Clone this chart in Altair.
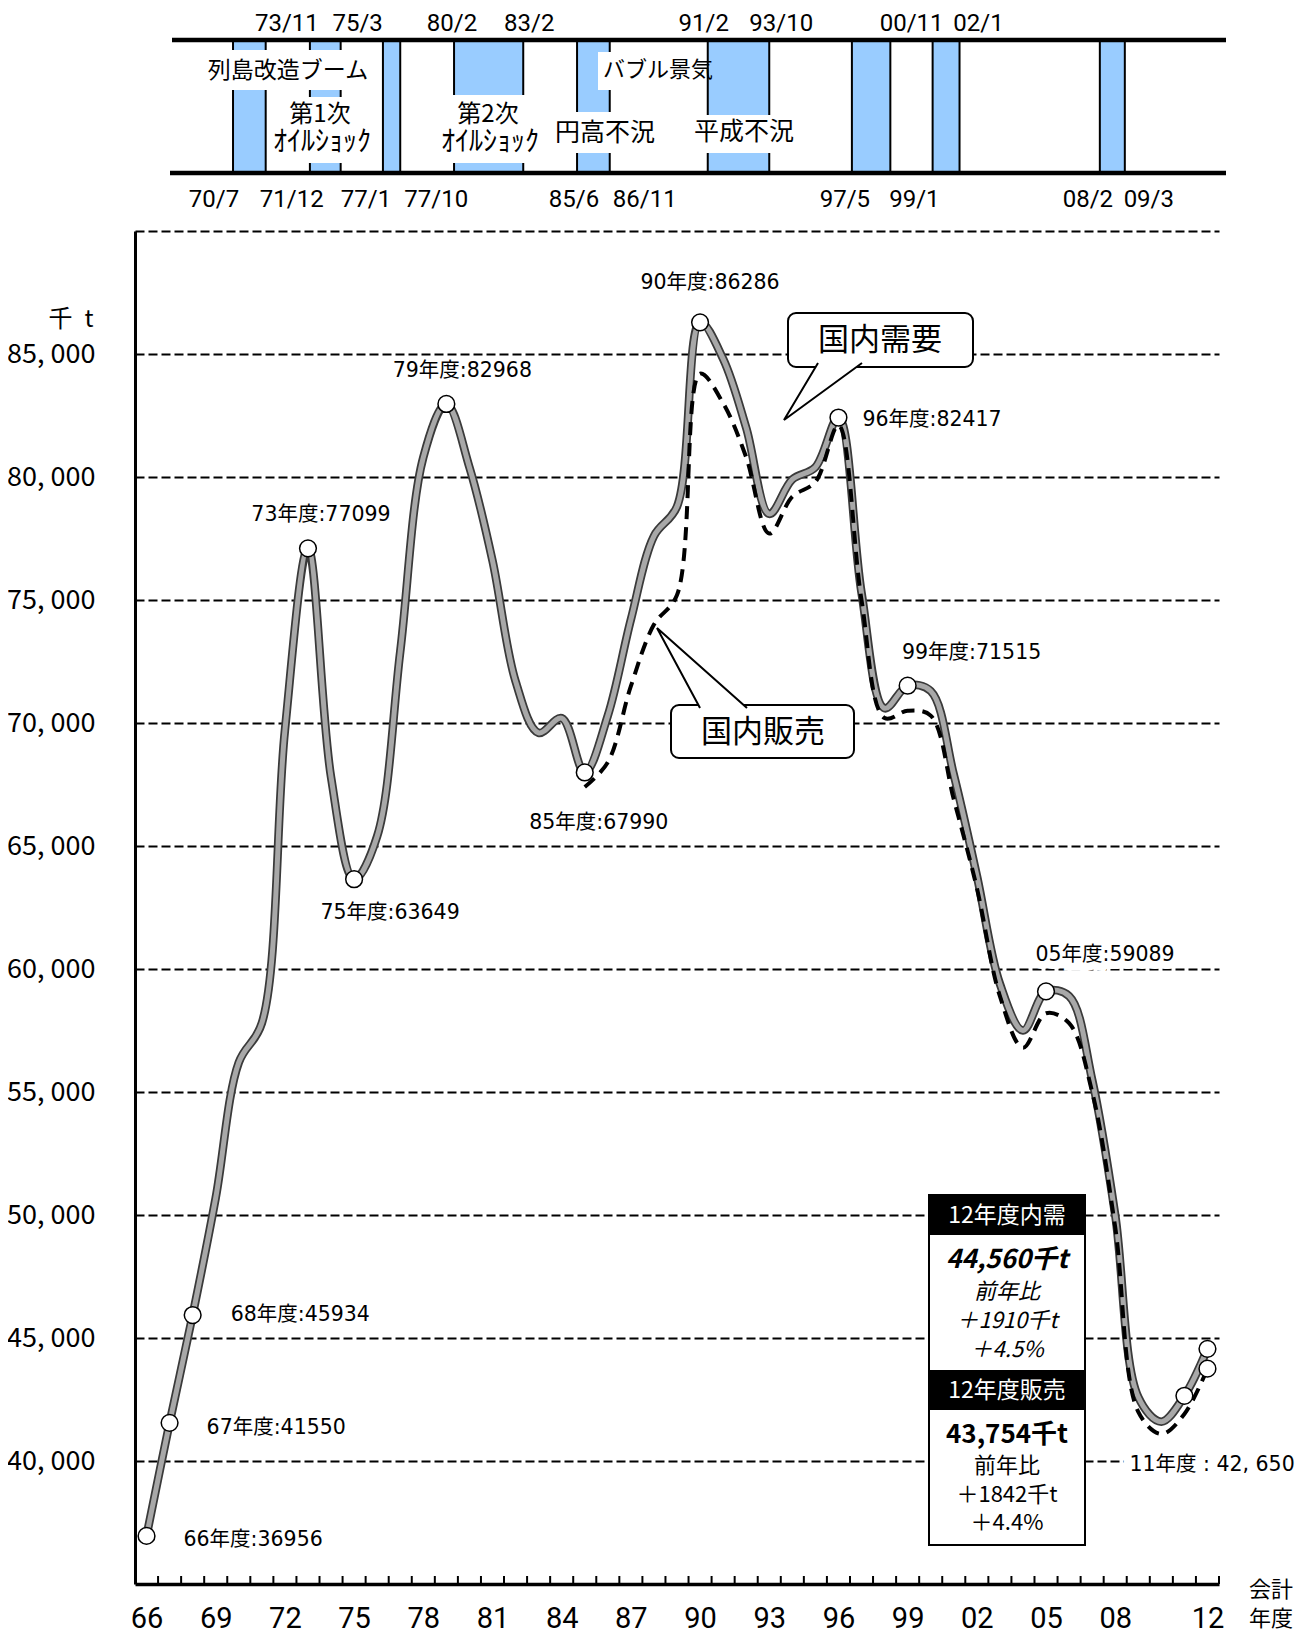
import altair as alt
import pandas as pd

# ---------------- data ----------------
years = list(range(1966, 2013))
demand = [36956, 41550, 45934, 50700, 56200, 57800, 69700, 77099, 67800, 63649,
          65400, 72900, 80800, 82968, 80400, 76600, 71700, 69600, 70200, 67990,
          70300, 74200, 77600, 78800, 86286, 84800, 82000, 78500, 79900, 80400,
          82417, 75300, 70600, 71515, 71300, 67900, 63800, 59400, 57500, 59089,
          58900, 55500, 50000, 42600, 41600, 42650, 44560]
sales_years = list(range(1985, 2013))
sales = [67400, 68400, 71500, 74000, 75200, 84200, 83000, 80800, 77700, 79200,
         79800, 82100, 75000, 70200, 70500, 70300, 66900, 63300, 58900, 56800,
         58200, 57800, 55000, 49500, 42000, 41100, 41912, 43754]
labeled_years = [1966, 1967, 1968, 1973, 1975, 1979, 1985, 1990, 1996, 1999, 2005, 2011]
last_year = 2012
recession_start = ["70/7", "73/11", "77/1", "80/2", "85/6", "91/2", "97/5", "00/11", "08/2"]
recession_end = ["71/12", "75/3", "77/10", "83/2", "86/11", "93/10", "99/1", "02/1", "09/3"]
x_label_years = [1966, 1969, 1972, 1975, 1978, 1981, 1984, 1987, 1990, 1993, 1996,
                 1999, 2002, 2005, 2008, 2012]
y_ticks = [40000, 45000, 50000, 55000, 60000, 65000, 70000, 75000, 80000, 85000, 90000]
demand_box = ["12年度内需", "44,560千t", "前年比", "＋1910千t", "＋4.5%"]
sales_box = ["12年度販売", "43,754千t", "前年比", "＋1842千t", "＋4.4%"]

# ---------------- tables ----------------
dem_df = pd.DataFrame({"fy": years, "v": demand})
dem_df["t"] = dem_df["fy"] + 0.75          # middle of fiscal year (Apr-Mar)
sal_df = pd.DataFrame({"fy": sales_years, "v": sales})
sal_df["t"] = sal_df["fy"] + 0.75


def parse_ym(s):
    yy, mm = s.split("/")
    yy = int(yy)
    y = 1900 + yy if yy >= 50 else 2000 + yy
    return y + (int(mm) - 1) / 12


rec_df = pd.DataFrame({
    "s": [parse_ym(a) for a in recession_start],
    "e": [parse_ym(b) for b in recession_end],
    "ls": recession_start,
    "le": recession_end,
})
bounds_df = pd.DataFrame({"b": [fy + 1.25 for fy in years]})


def label_text(fy, v):
    if fy == 2011:
        return f"{fy % 100:02d}年度 : " + f"{v:,}".replace(",", ", ")
    return f"{fy % 100:02d}年度:{v}"


mk_df = pd.concat([
    dem_df[dem_df["fy"].isin(labeled_years + [last_year])],
    sal_df[sal_df["fy"] == last_year],
], ignore_index=True)
lab_df = dem_df[dem_df["fy"].isin(labeled_years)].copy()
lab_df["label"] = [label_text(f, v) for f, v in zip(lab_df["fy"], lab_df["v"])]

one = pd.DataFrame({"k": [0]})

# ---------------- layout / style ----------------
W, H = 1084, 1353
X0, Y0 = 135, 231
JP = "Noto Sans CJK JP"
NUM = "DejaVu Sans, Noto Sans CJK JP"
CURVE = "catmull-rom"


def rx(px):
    return px - X0


def ry(py):
    return py - Y0


x_scale = alt.Scale(domain=[years[0] + 0.25, years[-1] + 1.25], nice=False, zero=False)
y_scale = alt.Scale(domain=[35000, 90000], nice=False, zero=False)

x_axis = alt.Axis(values=[fy + 0.75 for fy in x_label_years],
                  labelExpr="slice(toString(floor(datum.value)), 2)",
                  ticks=False, tickSize=0, labelPadding=34, labelBaseline="middle",
                  labelFontSize=29, labelFont="Roboto", labelColor="black",
                  labelFlush=False, labelOverlap=False, domainWidth=3.5,
                  domainColor="black", grid=False, title=None)
y_axis = alt.Axis(values=y_ticks,
                  labelExpr="datum.value >= 90000 ? '' : replace(format(datum.value, ','), ',', ', ')",
                  ticks=False, tickSize=0, labelPadding=40, labelFontSize=27,
                  labelFont=JP, labelColor="black", domainWidth=3, domainColor="black",
                  grid=True, gridColor="black", gridDash=[9, 4], gridWidth=1.8,
                  labelOverlap=False, labelFlush=False, title=None)


def X(field):
    return alt.X(field, type="quantitative", scale=x_scale, axis=x_axis)


def Y(field):
    return alt.Y(field, type="quantitative", scale=y_scale, axis=y_axis)


def text_at(txt, px, py, size, font=JP, weight="normal", style="normal",
            color="black", align="center"):
    return alt.Chart(one).mark_text(
        text=txt, fontSize=size, font=font, fontWeight=weight, fontStyle=style,
        color=color, align=align, baseline="middle"
    ).encode(x=alt.value(rx(px)), y=alt.value(ry(py)))


def rect_at(x1, y1, x2, y2, fill="white", stroke=None, sw=0, radius=0):
    kw = dict(fill=fill, cornerRadius=radius)
    if stroke:
        kw.update(stroke=stroke, strokeWidth=sw)
    else:
        kw.update(strokeWidth=0)
    return alt.Chart(one).mark_rect(**kw).encode(
        x=alt.value(rx(x1)), x2=alt.value(rx(x2)),
        y=alt.value(ry(y1)), y2=alt.value(ry(y2)))


def hline(x1, x2, py, width):
    return alt.Chart(one).mark_rule(color="black", strokeWidth=width).encode(
        x=alt.value(rx(x1)), x2=alt.value(rx(x2)), y=alt.value(ry(py)))


layers = []

# ---------------- main plot ----------------
layers.append(alt.Chart(bounds_df).mark_rule(color="black", strokeWidth=2).encode(
    x=X("b"), y=alt.value(H - 8), y2=alt.value(H)))

label_style = {
    1966: ("left", 37, 4), 1967: ("left", 37, 5), 1968: ("left", 38, 0),
    1973: ("center", 13, -33), 1975: ("center", 36, 34), 1979: ("center", 16, -33),
    1985: ("center", 14, 51), 1990: ("center", 10, -39), 1996: ("left", 24, 2),
    1999: ("center", 64, -33), 2005: ("center", 59, -36), 2011: ("left", -55, 69),
}
# white halos for labels that sit on grid lines
for fy in (2005, 2011):
    align, dx, dy = label_style[fy]
    layers.append(alt.Chart(lab_df).transform_filter(alt.datum.fy == fy).mark_text(
        align=align, dx=dx, dy=dy, fontSize=20.5, font=NUM, baseline="middle",
        stroke="white", strokeWidth=16, color="white").encode(
        x=X("t"), y=Y("v"), text="label:N"))

layers.append(alt.Chart(dem_df).mark_line(
    interpolate=CURVE, color="#3a3a3a", strokeWidth=8.5,
    strokeCap="round", strokeJoin="round").encode(x=X("t"), y=Y("v")))
layers.append(alt.Chart(dem_df).mark_line(
    interpolate=CURVE, color="#a8a8a8", strokeWidth=5,
    strokeCap="round", strokeJoin="round").encode(x=X("t"), y=Y("v")))
layers.append(alt.Chart(sal_df).mark_line(
    interpolate=CURVE, color="black", strokeWidth=4, strokeDash=[13, 8]).encode(
    x=X("t"), y=Y("v")))
layers.append(alt.Chart(mk_df).mark_point(
    shape="circle", filled=True, fill="white", stroke="black", strokeWidth=1.5,
    size=280, opacity=1).encode(x=X("t"), y=Y("v")))

for fy, (align, dx, dy) in label_style.items():
    layers.append(alt.Chart(lab_df).transform_filter(alt.datum.fy == fy).mark_text(
        align=align, dx=dx, dy=dy, fontSize=20.5, font=NUM, baseline="middle",
        color="black").encode(x=X("t"), y=Y("v"), text="label:N"))

# ---------------- top panel: recession periods ----------------
TOP, BOT = 40, 173
layers.append(alt.Chart(rec_df).mark_rect(fill="#99CCFF", stroke="black", strokeWidth=2).encode(
    x=X("s"), x2="e:Q", y=alt.value(ry(TOP)), y2=alt.value(ry(BOT))))
for box in [(205, 50, 370, 90), (268, 97, 375, 163), (437, 95, 543, 163),
            (553, 112, 657, 153), (598, 52, 704, 90), (688, 115, 800, 153)]:
    layers.append(rect_at(*box))
layers.append(hline(172, 1226, TOP, 4.5))
layers.append(hline(170, 1226, BOT, 4.5))

start_dx = [-19, -23, -17, -2, -3, -4, -7, -21, -12]
end_dx = [26, 17, 36, 6, 35, 12, 24, 19, 24]
for i in range(len(recession_start)):
    py = 200 if i % 2 == 0 else 24
    layers.append(alt.Chart(rec_df).transform_filter(alt.datum.ls == recession_start[i]).mark_text(
        align="center", dx=start_dx[i], fontSize=24, font="Roboto", baseline="middle").encode(
        x=X("s"), y=alt.value(ry(py)), text="ls:N"))
    layers.append(alt.Chart(rec_df).transform_filter(alt.datum.le == recession_end[i]).mark_text(
        align="center", dx=end_dx[i], fontSize=24, font="Roboto", baseline="middle").encode(
        x=X("e"), y=alt.value(ry(py)), text="le:N"))

layers += [
    text_at("列島改造ブーム", 288, 71, 23),
    text_at("第1次", 320, 115, 24),
    text_at("ｵｲﾙｼｮｯｸ", 322, 143, 28),
    text_at("第2次", 488, 115, 24),
    text_at("ｵｲﾙｼｮｯｸ", 490, 143, 28),
    text_at("円高不況", 605, 133, 25),
    text_at("バブル景気", 658, 70, 22),
    text_at("平成不況", 744, 132, 25),
]

# ---------------- callouts ----------------
layers.append(rect_at(788, 313, 973, 367, stroke="black", sw=2, radius=8))
layers.append(alt.Chart(one).mark_point(
    shape="M-0.128,-0.77L-1,0.692L1,-0.77", size=6084, filled=True, fill="white",
    stroke="black", strokeWidth=2, opacity=1).encode(
    x=alt.value(rx(823)), y=alt.value(ry(393))))
layers.append(text_at("国内需要", 880, 341, 31))

layers.append(rect_at(671, 705, 854, 758, stroke="black", sw=2, radius=8))
layers.append(alt.Chart(one).mark_point(
    shape="M-0.044,0.922L-1,-0.856L1,0.922", size=8100, filled=True, fill="white",
    stroke="black", strokeWidth=2, opacity=1).encode(
    x=alt.value(rx(702)), y=alt.value(ry(666.5))))
layers.append(text_at("国内販売", 763, 733, 31))

# ---------------- info box ----------------
layers.append(rect_at(929, 1195, 1085, 1545, stroke="black", sw=2))
layers.append(rect_at(929, 1195, 1085, 1235, fill="black"))
layers.append(rect_at(929, 1370, 1085, 1410, fill="black"))
cx = 1007
layers += [
    text_at(demand_box[0], cx, 1216, 23, color="white"),
    text_at(demand_box[1], cx, 1260, 26, weight="bold", style="italic"),
    text_at(demand_box[2], cx, 1292, 22, style="italic"),
    text_at(demand_box[3], cx, 1321, 22, style="italic"),
    text_at(demand_box[4], cx, 1350, 22, style="italic"),
    text_at(sales_box[0], cx, 1391, 23, color="white"),
    text_at(sales_box[1], cx, 1435, 26, weight="bold"),
    text_at(sales_box[2], cx, 1466, 22),
    text_at(sales_box[3], cx, 1495, 22),
    text_at(sales_box[4], cx, 1523, 22),
]

# ---------------- misc text ----------------
layers += [
    text_at("千\u2002t", 71, 320, 24),
    text_at("会計", 1271, 1590, 22),
    text_at("年度", 1271, 1619, 22),
]

chart = alt.layer(*layers).properties(
    width=W, height=H,
    padding={"left": 127, "top": 223, "right": 85, "bottom": 49},
    autosize=alt.AutoSizeParams(type="none"),
).configure_view(stroke=None)

chart.save("out.html", embed_options={"renderer": "svg", "actions": False})
